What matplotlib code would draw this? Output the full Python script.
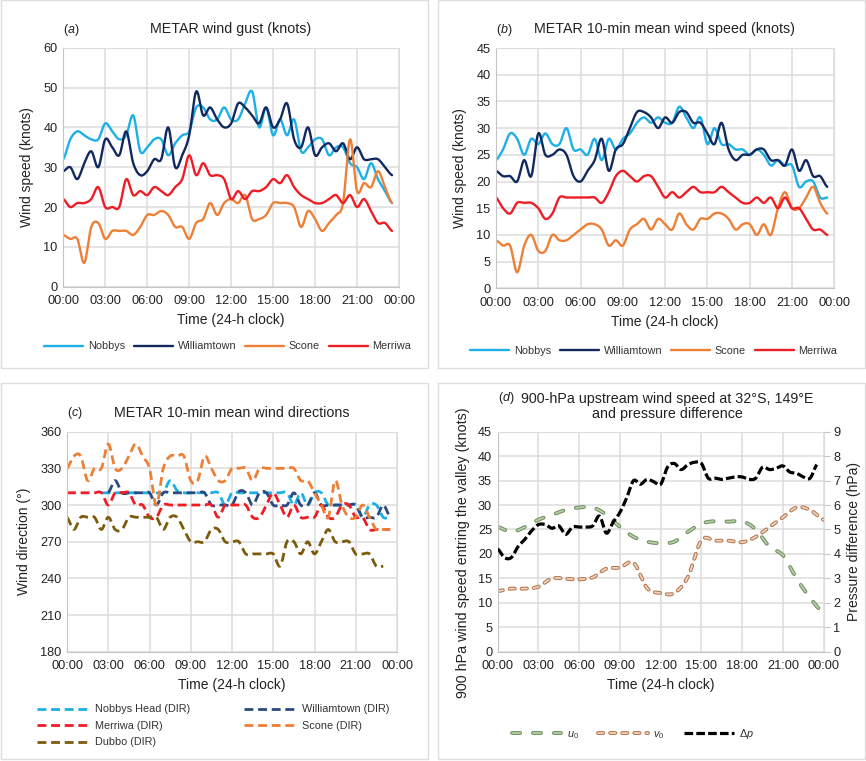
import numpy as np
import matplotlib
matplotlib.use('Agg')
import matplotlib.pyplot as plt
import matplotlib.patheffects as pe
from matplotlib.patches import Rectangle

W, H = 866, 761

TICK_LABELS = ['00:00', '03:00', '06:00', '09:00', '12:00', '15:00', '18:00', '21:00', '00:00']

# half-hourly readings, 00:00 to 23:30
gust_nobbys = [32, 37, 39, 38, 37, 37, 41, 39, 37, 38, 43, 34, 35, 37, 37, 33, 36, 38,
               39, 45, 45, 42, 42, 45, 42, 42, 46, 49, 40, 45, 38, 42, 38, 42, 34, 35,
               37, 37, 33, 35, 35, 31, 30, 27, 31, 27, 24, 21]
gust_williamtown = [29, 30, 27, 31, 34, 30, 37, 35, 33, 39, 31, 28, 29, 32, 32, 40, 30, 33,
                    38, 49, 43, 45, 42, 40, 41, 46, 45, 43, 41, 45, 40, 42, 46, 37, 35, 40,
                    33, 35, 36, 34, 36, 32, 35, 32, 32, 32, 30, 28]
gust_scone = [13, 12, 12, 6, 15, 16, 12, 14, 14, 14, 13, 15, 18, 18, 19, 18, 15, 15,
              12, 16, 17, 21, 18, 21, 22, 21, 23, 17, 17, 18, 21, 21, 21, 20, 15, 19,
              17, 14, 16, 18, 21, 37, 24, 26, 25, 29, 25, 21]
gust_merriwa = [22, 20, 21, 21, 22, 25, 20, 20, 20, 27, 23, 24, 23, 25, 24, 23, 25, 27,
                33, 28, 31, 28, 28, 27, 22, 24, 22, 24, 24, 25, 27, 26, 28, 25, 23, 22,
                21, 21, 22, 23, 21, 23, 20, 22, 19, 16, 16, 14]

mean_nobbys = [24, 26, 29, 28, 25, 28, 27, 29, 27, 27, 30, 26, 26, 25, 28, 24, 28, 26,
               28, 29, 31, 32, 31, 32, 31, 31, 34, 32, 30, 32, 27, 30, 27, 27, 26, 26,
               25, 26, 25, 23, 24, 23, 23, 19, 20, 20, 17, 17]
mean_williamtown = [22, 21, 21, 20, 24, 21, 29, 25, 25, 26, 25, 21, 20, 22, 24, 28, 22, 26,
                    27, 30, 33, 33, 32, 30, 32, 31, 33, 33, 31, 31, 29, 27, 31, 26, 24, 25,
                    25, 26, 26, 24, 24, 23, 26, 22, 24, 21, 21, 19]
mean_scone = [9, 8, 8, 3, 8, 10, 7, 7, 10, 9, 9, 10, 11, 12, 12, 11, 8, 9,
              8, 11, 12, 13, 11, 13, 12, 11, 14, 12, 11, 13, 13, 14, 14, 13, 11, 12,
              12, 10, 12, 10, 15, 18, 15, 15, 17, 19, 16, 14]
mean_merriwa = [17, 15, 14, 16, 16, 16, 15, 13, 14, 17, 17, 17, 17, 17, 17, 16, 18, 21,
                22, 21, 20, 21, 21, 19, 17, 18, 17, 18, 19, 18, 18, 18, 19, 18, 17, 16,
                16, 17, 16, 17, 15, 17, 15, 15, 13, 11, 11, 10]

n = np.nan
dir_nobbys = [n, n, n, n, n, 310, 310, 310, 310, 310, 310, 310, 310, 310, 310, 320, 312, 310,
              310, 310, 310, 310, 310, 300, 310, 310, 310, 310, 310, 310, 310, 310, 310, 300, 310, 300,
              310, 310, 300, 300, 300, 300, 300, 290, 300, 300, 290, 290]
dir_williamtown = [n, n, n, n, n, n, 310, 320, 310, 310, 310, 310, 310, 300, 310, 310, 310, 310,
                   310, 310, 310, 300, 300, 300, 300, 311, 310, 300, 310, 310, 300, 300, 300, 310, 300, 300,
                   310, 300, 300, 300, 300, 300, 300, 290, 290, 290, 300, 290]
dir_merriwa = [310, 310, 310, 310, 310, 310, 300, 310, 310, 310, 300, 300, 290, 290, 300, 300, 300, 300,
               300, 300, 300, 300, 290, 300, 300, 300, 300, 290, 290, 300, 310, 300, 290, 300, 290, 290,
               290, 300, 290, 290, 300, 300, 290, 290, 280, 280, 280, 280]
dir_scone = [330, 340, 340, 320, 330, 330, 350, 330, 330, 340, 350, 340, 330, 300, 330, 340, 340, 340,
             320, 320, 340, 330, 320, 320, 330, 330, 330, 320, 330, 330, 330, 330, 330, 330, 320, 320,
             310, 300, 290, 320, 300, 290, 290, 300, 290, 280, 280, 280]
dir_dubbo = [290, 280, 290, 290, 290, 280, 290, 280, 280, 290, 290, 290, 290, 290, 280, 290, 290, 280,
             270, 270, 270, 280, 280, 270, 270, 270, 260, 260, 260, 260, 260, 250, 270, 270, 260, 270,
             260, 270, 280, 270, 270, 270, 260, 260, 260, 250, 250, n]

# hourly, 00:00 to 00:00
u0 = [25.5, 24.5, 25.5, 27, 28, 29, 29.5, 29.5, 28, 25.5, 23.5, 22.5, 22.2,
      22.5, 24.5, 26.2, 26.7, 26.6, 26.7, 25, 21.5, 19.7, 15, 11, 8]
v0 = [12.4, 12.9, 12.9, 13.3, 15, 14.9, 14.8, 15.2, 17, 17.2, 18.2, 13, 12,
      12, 15.3, 22.8, 22.7, 22.7, 22.4, 23.5, 25.5, 27.5, 29.5, 29, 27]
# half-hourly
dp = [4.2, 3.85, 3.85, 4.3, 4.6, 4.95, 5.2, 5.2, 5.05, 5.15, 4.8, 5.1, 5.1, 5.1, 5.15, 5.55,
      4.85, 5.3, 5.7, 6.3, 7, 6.85, 7.05, 6.95, 6.85, 7.55, 7.7, 7.45, 7.65, 7.75, 7.7, 7.1,
      7.1, 7.05, 7.1, 7.15, 7.15, 7.05, 7.1, 7.55, 7.45, 7.5, 7.6, 7.35, 7.3, 7.15, 7.1, 7.65]

NOBBYS = '#1cb0e6'
WILLIAMTOWN = '#12295f'
SCONE = '#ed8036'
MERRIWA = '#ee1c25'
WILL_DASH = '#2a4a80'
DUBBO = '#7b5c0c'
GRID = '#dcdcdc'
TEXT = '#222222'


def smooth(x, y, per=12):
    # spreadsheet style smoothed line (catmull-rom between the readings)
    x = np.asarray(x, float)
    y = np.asarray(y, float)
    keep = ~np.isnan(y)
    x, y = x[keep], y[keep]
    xs, ys = [], []
    for i in range(len(x) - 1):
        y0 = y[i - 1] if i > 0 else y[i]
        y3 = y[i + 2] if i + 2 < len(y) else y[i + 1]
        t = np.linspace(0, 1, per, endpoint=False)
        xs.append(x[i] + t * (x[i + 1] - x[i]))
        ys.append(0.5 * (2 * y[i] + (y[i + 1] - y0) * t
                         + (2 * y0 - 5 * y[i] + 4 * y[i + 1] - y3) * t ** 2
                         + (3 * y[i] - y0 - 3 * y[i + 1] + y3) * t ** 3))
    xs.append(x[-1:])
    ys.append(y[-1:])
    return np.concatenate(xs), np.concatenate(ys)


def hours(vals, step=0.5):
    return np.arange(len(vals)) * step


def add_axes(left, right, top, bottom):
    ax = fig.add_axes([left / W, 1 - bottom / H, (right - left) / W, (bottom - top) / H])
    ax.set_xlim(0, 24)
    ax.set_xticks(np.arange(0, 25, 3))
    ax.set_xticklabels(TICK_LABELS)
    ax.grid(True, color=GRID, lw=1.1)
    ax.set_axisbelow(True)
    ax.tick_params(length=0, labelsize=9.2, colors=TEXT)
    ax.tick_params(axis='x', pad=6)
    ax.tick_params(axis='y', pad=4)
    for s in ['top', 'right']:
        ax.spines[s].set_color(GRID)
    for s in ['left', 'bottom']:
        ax.spines[s].set_color('#c4c4c4')
    ax.set_xlabel('Time (24-h clock)', fontsize=10, color=TEXT, labelpad=4.5)
    return ax


def panel_box(x0, y0, x1, y1):
    fig.add_artist(Rectangle((x0 / W, 1 - y1 / H), (x1 - x0) / W, (y1 - y0) / H,
                             transform=fig.transFigure, fill=False, ec='#dddddd', lw=1))


def label(x, y, text, size=10.3, **kw):
    fig.text(x / W, 1 - y / H, text, ha='center', va='center', fontsize=size, color=TEXT, **kw)


def speed_panel(ax, series, ymax, ystep, leg_pos):
    for vals, col, name in series:
        sx, sy = smooth(hours(vals), vals)
        ax.plot(sx, sy, color=col, lw=1.7, label=name, solid_capstyle='round')
    ax.set_ylim(0, ymax)
    ax.set_yticks(np.arange(0, ymax + 1, ystep))
    ax.set_ylabel('Wind speed (knots)', fontsize=10, color=TEXT, labelpad=6.5)
    ax.legend(loc='center', bbox_to_anchor=leg_pos, ncol=4, frameon=False, fontsize=7.8,
              handlelength=3.6, handletextpad=0.45, columnspacing=0.8, labelcolor='#333333')


def outlined(dark):
    return [pe.Stroke(linewidth=2.8, foreground=dark), pe.Normal()]


plt.rcParams['font.family'] = ['Liberation Sans', 'DejaVu Sans']
plt.rcParams['mathtext.fontset'] = 'custom'
plt.rcParams['mathtext.it'] = 'Liberation Sans:italic'
plt.rcParams['mathtext.rm'] = 'Liberation Sans'

fig = plt.figure(figsize=(W / 100, H / 100), dpi=100)

panel_box(1, 0, 428, 368)
panel_box(438, 0, 865, 368)
panel_box(1, 383, 428, 759)
panel_box(438, 383, 865, 759)

# (a)
ax_a = add_axes(63.3, 399, 47.7, 286.7)
speed_panel(ax_a, [(gust_nobbys, NOBBYS, 'Nobbys'), (gust_williamtown, WILLIAMTOWN, 'Williamtown'),
                   (gust_scone, SCONE, 'Scone'), (gust_merriwa, MERRIWA, 'Merriwa')],
            60, 10, (0.49, -0.25))
label(231, 28.5, 'METAR wind gust (knots)')
label(71, 30, r'($\it{a}$)', size=9)

# (b)
ax_b = add_axes(496, 834.3, 48, 288.3)
speed_panel(ax_b, [(mean_nobbys, NOBBYS, 'Nobbys'), (mean_williamtown, WILLIAMTOWN, 'Williamtown'),
                   (mean_scone, SCONE, 'Scone'), (mean_merriwa, MERRIWA, 'Merriwa')],
            45, 5, (0.466, -0.26))
label(664, 28.5, 'METAR 10-min mean wind speed (knots)')
label(504, 30, r'($\it{b}$)', size=9)

# (c)
ax_c = add_axes(67, 397, 431.7, 651.7)
for vals, col, name in [(dir_nobbys, NOBBYS, 'Nobbys Head (DIR)'), (dir_williamtown, WILL_DASH, 'Williamtown (DIR)'),
                        (dir_merriwa, MERRIWA, 'Merriwa (DIR)'), (dir_scone, SCONE, 'Scone (DIR)'),
                        (dir_dubbo, DUBBO, 'Dubbo (DIR)')]:
    sx, sy = smooth(hours(vals), vals)
    ax_c.plot(sx, sy, color=col, lw=2.0, dashes=(3.2, 1.7), label=name)
ax_c.set_ylim(180, 360)
ax_c.set_yticks(np.arange(180, 361, 30))
ax_c.set_ylabel('Wind direction (°)', fontsize=10, color=TEXT, labelpad=6.5)
h, l = ax_c.get_legend_handles_labels()
order = [0, 2, 4, 1, 3]
ax_c.legend([h[i] for i in order], [l[i] for i in order], loc='upper left', bbox_to_anchor=(-0.105, -0.22),
            ncol=2, frameon=False, fontsize=7.8, handlelength=4.9, handletextpad=0.45,
            columnspacing=5, labelspacing=0.6, labelcolor='#333333', borderaxespad=0)
label(232, 413, 'METAR 10-min mean wind directions')
label(75, 413, r'($\it{c}$)', size=9)

# (d)
ax_d = add_axes(497.7, 823.7, 431.7, 651.7)
sx, sy = smooth(hours(u0, 1), u0)
ln_u, = ax_d.plot(sx, sy, color='#b5cfa6', lw=1.3, dashes=(4.5, 7.1), dash_capstyle='round',
                  path_effects=outlined('#6f8f60'))
sx, sy = smooth(hours(v0, 1), v0)
ln_v, = ax_d.plot(sx, sy, color='#efd3bf', lw=1.3, dashes=(2.9, 3.8), dash_capstyle='round',
                  path_effects=outlined('#b5764c'))
ax_d.set_ylim(0, 45)
ax_d.set_yticks(np.arange(0, 46, 5))
ax_d.set_ylabel('900 hPa wind speed entring the valley (knots)', fontsize=10.3, color=TEXT)
ax_d.yaxis.set_label_coords(-0.085, 0.45)

ax_d2 = ax_d.twinx()
sx, sy = smooth(hours(dp), dp)
ln_p, = ax_d2.plot(sx, sy, color='black', lw=2.3, dashes=(2.7, 1.0))
ax_d2.set_ylim(0, 9)
ax_d2.set_yticks(np.arange(0, 10, 1))
ax_d2.tick_params(length=4, width=0.8, color='#c4c4c4', labelsize=9.2, pad=3, labelcolor=TEXT)
ax_d2.set_ylabel('Pressure difference (hPa)', fontsize=10, color=TEXT, labelpad=5)
for s in ax_d2.spines.values():
    s.set_visible(False)
ax_d2.legend([ln_u, ln_v, ln_p], [r'$\it{u}_0$', r'$\it{v}_0$', r'$\Delta\it{p}$'], loc='center',
             bbox_to_anchor=(0.415, -0.375), ncol=3, frameon=False, fontsize=7.8, handlelength=4.6,
             handletextpad=0.5, columnspacing=1.8, labelcolor='#333333')
label(667.5, 406.5, '900-hPa upstream wind speed at 32°S, 149°E\nand pressure difference', linespacing=1.15)
label(506, 398, r'($\it{d}$)', size=9)

fig.savefig('out.png', dpi=100)
